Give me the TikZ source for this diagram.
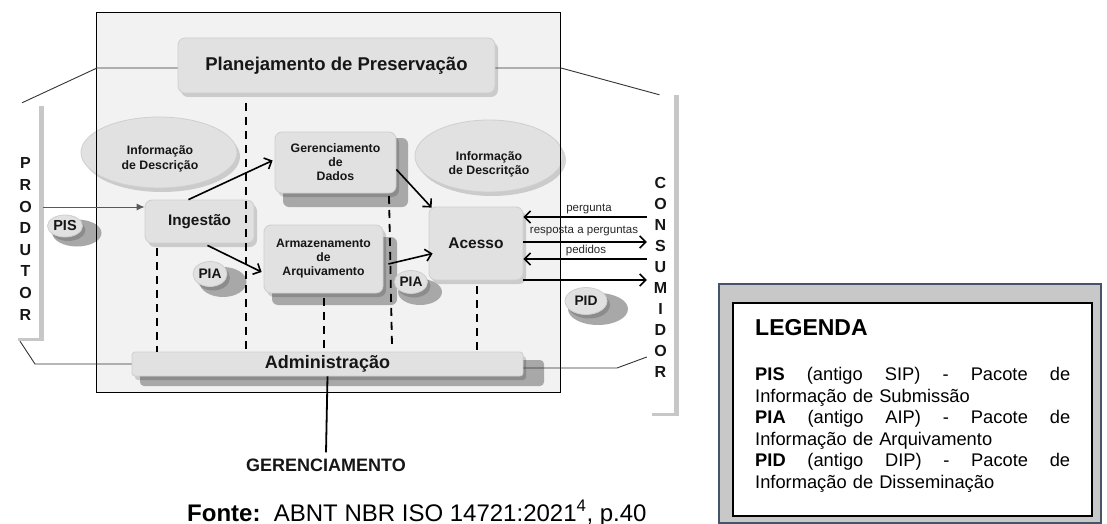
\documentclass[tikz,border=0pt]{standalone}
\usepackage{fontspec}
\setmainfont{Liberation Sans}
\usetikzlibrary{arrows.meta,shapes.geometric,shadows,calc}
\definecolor{boxgray}{HTML}{E1E1E1}
\definecolor{boxline}{HTML}{CFCFCF}
\definecolor{shadgray}{HTML}{A8A8A8}
\definecolor{framefill}{HTML}{F2F2F2}
\definecolor{legfill}{HTML}{C8C8C8}
\definecolor{legline}{HTML}{44546A}
\definecolor{txt}{HTML}{161616}
\newcommand{\myfs}[2]{\fontsize{#1}{#2}\selectfont}
\tikzset{
  soft/.style={drop shadow={shadow xshift=3pt,shadow yshift=-4pt,opacity=0.16,fill=black}},
  box/.style={draw=boxline, fill=boxgray, rounded corners=7pt, line width=0.8pt, inner sep=0pt, soft, text=txt, font=\bfseries, align=center},
  sbox/.style={fill=shadgray, rounded corners=6pt, inner sep=0pt, draw=none},
  ell/.style={ellipse, draw=boxline, fill=boxgray, inner sep=0pt, line width=0.8pt, soft},
  sell/.style={ellipse, fill=shadgray, inner sep=0pt, draw=none},
  lbl/.style={inner sep=0pt, text=txt, font=\bfseries, align=center},
  conn/.style={draw=black!80, line width=0.9pt},
  arr/.style={line width=1.6pt, -{Straight Barb[length=6pt,width=12pt,line width=1.6pt]}},
  dsh/.style={line width=1.8pt, dash pattern=on 8pt off 6pt},
  bar/.style={fill=white, draw=none, inner sep=0pt, drop shadow={shadow xshift=5pt,shadow yshift=-3pt,opacity=0.22,fill=black}},
  rl/.style={inner sep=0pt, text=black!85, font=\myfs{11.5}{13}},
}
\begin{document}
\begin{tikzpicture}[x=1pt,y=-1pt]
\useasboundingbox (0,0) rectangle (1107,524);
% main frame
\node[fill=framefill, minimum width=463pt, minimum height=379pt, inner sep=0pt] (frame) at (328.5,202.5) {};
% side bars
\node[bar, minimum width=26pt, minimum height=235pt] (prod) at (26,220.5) {};
\node[bar, minimum width=27pt, minimum height=321pt] (cons) at (660.5,252.5) {};
\node[lbl, font=\bfseries\myfs{16}{21.6}] (prodtxt) at (25.5,239) {P\\R\\O\\D\\U\\T\\O\\R};
\node[lbl, font=\bfseries\myfs{16}{21}] (constxt) at (660.5,277) {C\\O\\N\\S\\U\\M\\I\\D\\O\\R};
% ellipses
\node[ell, minimum width=156pt, minimum height=71pt] (infoL) at (159,152.5) {};
\node[lbl, font=\bfseries\myfs{12.3}{14.5}] (infoLt) at (160,159) {Informação\\de Descrição};
\node[ell, minimum width=148pt, minimum height=72pt] (infoR) at (489,156) {};
\node[lbl, font=\bfseries\myfs{12.3}{14.5}] (infoRt) at (489,164.5) {Informação\\de Descritção};
% planning box
\node[box, minimum width=317pt, minimum height=55pt, font=\bfseries\myfs{18.5}{21}] (plan) at (336.5,65.5) {Planejamento de Preservação};
% shadow blocks
\node[sbox, minimum width=125pt, minimum height=69pt] (gersh) at (345.5,172.5) {};
\node[sbox, minimum width=125pt, minimum height=68pt] (armsh) at (334.5,271) {};
\node[sbox, rounded corners=4pt, minimum width=404pt, minimum height=26pt] (admsh) at (342,373) {};
% boxes
\node[box, minimum width=121pt, minimum height=61pt, font=\bfseries\myfs{12.3}{14}] (ger) at (335.5,162.5) {Gerenciamento\\de\\Dados};
\node[box, minimum width=109pt, minimum height=43pt, font=\bfseries\myfs{15.3}{17}] (ing) at (199.5,221.5) {Ingestão};
\node[box, minimum width=119pt, minimum height=68pt, font=\bfseries\myfs{12.2}{14}] (arm) at (323.5,259) {Armazenamento\\de\\Arquivamento};
\node[box, minimum width=94pt, minimum height=73pt, font=\bfseries\myfs{15.5}{17}] (ace) at (476,243.5) {Acesso};
\node[box, rounded corners=3pt, minimum width=391pt, minimum height=24pt, font=\bfseries\myfs{18}{20}] (adm) at (327.5,364) {Administração};
% small package ellipses
\node[sell, minimum width=49pt, minimum height=27pt] (pissh) at (77,233) {};
\node[ell, minimum width=35pt, minimum height=22pt, font=\bfseries\myfs{14.5}{16}, text=txt] (pis) at (65,226) {PIS};
\node[sell, minimum width=47pt, minimum height=30pt] (pia1sh) at (223,282) {};
\node[ell, minimum width=34pt, minimum height=25pt, font=\bfseries\myfs{13.8}{16}, text=txt] (pia1) at (210,274) {PIA};
\node[sell, minimum width=44pt, minimum height=26pt] (pia2sh) at (420,292) {};
\node[ell, minimum width=33pt, minimum height=23pt, font=\bfseries\myfs{13.8}{16}, text=txt] (pia2) at (411,282) {PIA};
\node[sell, minimum width=60pt, minimum height=32pt] (pidsh) at (598,309) {};
\node[ell, minimum width=42pt, minimum height=27pt, font=\bfseries\myfs{13.8}{16}, text=txt] (pid) at (586,301) {PID};
% frame border on top
\draw[line width=1.3pt] (frame.north west) rectangle (frame.south east);
% dashed lines
\coordinate (d1a) at (246,103); \coordinate (d1b) at (246,352);
\coordinate (d2a) at (157,248); \coordinate (d2b) at (157,352);
\coordinate (d3a) at (324,298); \coordinate (d3b) at (324,352);
\coordinate (d4a) at (389,196); \coordinate (d4b) at (392,346);
\coordinate (d5a) at (477,286); \coordinate (d5b) at (477,352);
\draw[dsh] (d1a) -- (d1b);
\draw[dsh] (d2a) -- (d2b);
\draw[dsh] (d3a) -- (d3b);
\draw[dsh] (d4a) -- (d4b);
\draw[dsh] (d5a) -- (d5b);
% thin connectors to side bars
\coordinate (pl) at (97,68);
\coordinate (pr) at (561,68);
\draw[conn] (plan.west |- pl) -- (pl) -- ($(prod.north)+(-4,0)$);
\draw[conn] (plan.east |- pr) -- (pr) -- ($(cons.north)+(-1,3)$);
\coordinate (bl) at (35,364);
\draw[conn] ($(prod.south)+(-6,3)$) -- (bl) -- (adm.west |- bl);
\coordinate (br) at (617,368);
\coordinate (brt) at (646,357);
\draw[conn] (adm.east |- br) -- (br) -- (cons.west |- brt);
% produtor -> ingestao
\coordinate (pa) at (0,207);
\draw[draw=black!65, line width=1pt, -{Latex[length=8pt,width=7pt]}] ($(prod.east |- pa)+(4,0)$) -- (ing.west |- pa);
% internal arrows
\draw[arr] ($(ing.north)+(-11,0)$) -- ($(ger.west)+(-2,-2)$);
\draw[arr] ($(ger.east)+(0,7)$) -- ($(ace.north west)+(3,1)$);
\draw[arr] ($(ing.south)+(8,2)$) -- ($(arm.west)+(-2,13)$);
\draw[arr] ($(arm.east)+(5,5)$) -- ($(ace.west)+(4,10)$);
% consumer arrows
\coordinate (r1) at (0,217);
\coordinate (r2) at (0,242);
\coordinate (r3) at (0,259);
\coordinate (r4) at (0,280);
\draw[arr] (cons.west |- r1) -- (ace.east |- r1);
\draw[arr] (ace.east |- r2) -- (cons.west |- r2);
\draw[arr] (cons.west |- r3) -- (ace.east |- r3);
\draw[arr] (ace.east |- r4) -- (cons.west |- r4);
\node[rl] (lp) at (589,209) {pergunta};
\node[rl] (lr) at (584,231) {resposta a perguntas};
\node[rl] (lpe) at (586,251) {pedidos};
% management
\node[lbl, font=\bfseries\myfs{18}{20}] (gere) at (326,465) {GERENCIAMENTO};
\draw[line width=1.8pt] (adm.south) -- ($(gere.north)+(0,-6)$);
% source
\node[anchor=base west, inner sep=0pt, font=\myfs{24}{26}, text=black] (fonte) at (187,521) {\textbf{Fonte:}\ \ ABNT NBR ISO 14721:2021\textsuperscript{4}, p.40};
% legend
\node[fill=legfill, draw=legline, line width=1.5pt, minimum width=382pt, minimum height=239pt, inner sep=0pt] (legout) at (910,403.5) {};
\node[fill=white, draw=black, line width=1.5pt, minimum width=359pt, minimum height=213pt, inner sep=0pt] (legin) at (912.5,409.5) {};
\node[anchor=west, inner sep=0pt, font=\bfseries\myfs{23}{25}] (legt) at (755,328) {LEGENDA};
\node[anchor=north west, inner sep=0pt, text width=315pt, align=left, font=\myfs{18.3}{21.6}] (legb) at (755,367) {%
\makebox[315pt]{\textbf{PIS}\hfill(antigo\hfill SIP)\hfill-\hfill Pacote\hfill de}\\
Informação de Submissão\\
\makebox[315pt]{\textbf{PIA}\hfill(antigo\hfill AIP)\hfill-\hfill Pacote\hfill de}\\
Informação de Arquivamento\\
\makebox[315pt]{\textbf{PID}\hfill(antigo\hfill DIP)\hfill-\hfill Pacote\hfill de}\\
Informação de Disseminação};
\end{tikzpicture}
\end{document}
